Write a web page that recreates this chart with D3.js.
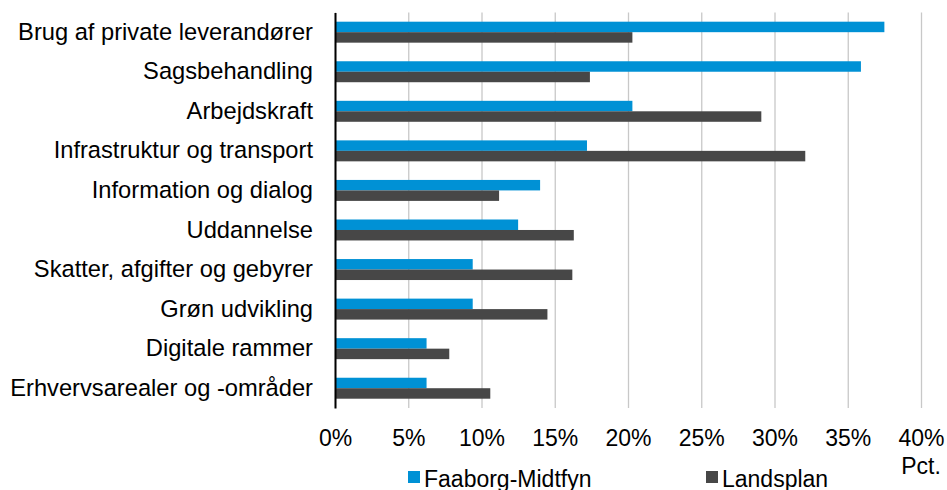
<!DOCTYPE html>
<html>
<head>
<meta charset="utf-8">
<script src="https://cdn.jsdelivr.net/npm/d3@7"></script>
<style>
  body { margin: 0; background: #fff; }
  svg text { font-family: "Liberation Sans", Arial, sans-serif; fill: #000; }
</style>
</head>
<body>
<svg id="chart" width="947" height="490"></svg>
<script>
// data
let categories = [
    "Brug af private leverandører",
    "Sagsbehandling",
    "Arbejdskraft",
    "Infrastruktur og transport",
    "Information og dialog",
    "Uddannelse",
    "Skatter, afgifter og gebyrer",
    "Grøn udvikling",
    "Digitale rammer",
    "Erhvervsarealer og -områder"
];
let faaborg = [37.5, 35.9, 20.3, 17.2, 14.0, 12.5, 9.4, 9.4, 6.25, 6.25];
let landsplan = [20.3, 17.4, 29.1, 32.1, 11.2, 16.3, 16.2, 14.5, 7.8, 10.6];
let seriesNames = ["Faaborg-Midtfyn", "Landsplan"];
let tickValues = [0, 5, 10, 15, 20, 25, 30, 35, 40];

let colors = ["#0091d5", "#474747"];

let svg = d3.select("#chart");
let margin = { top: 12.4, left: 335, right: 26, bottom: 82 };
let width = 947 - margin.left - margin.right,
    height = 490 - margin.top - margin.bottom;

let g = svg.append("g")
    .attr("transform", "translate(" + margin.left + "," + margin.top + ")");

let x = d3.scaleLinear().domain([0, 40]).range([0, width]);
let y = d3.scaleBand().domain(categories).range([0, height]).paddingInner(0.47).paddingOuter(0.235);
let ySub = d3.scaleBand().domain([0, 1]).range([0, y.bandwidth()]);

// gridlines
g.append("g")
    .attr("class", "grid")
    .call(d3.axisBottom(x).tickValues(tickValues).tickSize(height).tickFormat(""))
    .call(s => s.select(".domain").remove())
    .call(s => s.selectAll("line").attr("stroke", "#c8c8c8").attr("stroke-width", 1.3));

// bars
let rows = categories.map((c, i) => ({ cat: c, vals: [faaborg[i], landsplan[i]] }));
let row = g.selectAll(".row")
    .data(rows)
    .enter().append("g")
    .attr("transform", d => "translate(0," + y(d.cat) + ")");

row.selectAll("rect")
    .data(d => d.vals)
    .enter().append("rect")
    .attr("x", 0)
    .attr("y", (d, i) => ySub(i))
    .attr("width", d => x(d))
    .attr("height", ySub.bandwidth())
    .attr("fill", (d, i) => colors[i]);

// x tick labels
g.append("g")
    .attr("transform", "translate(0," + height + ")")
    .call(d3.axisBottom(x).tickValues(tickValues).tickSize(0).tickPadding(22).tickFormat(d => d + "%"))
    .call(s => s.select(".domain").remove())
    .call(s => s.selectAll("text").attr("font-size", 23).attr("font-family", null));

// category axis
g.append("g")
    .call(d3.axisLeft(y).tickSize(0).tickPadding(22))
    .call(s => s.select(".domain").attr("stroke", "#000").attr("stroke-width", 2))
    .call(s => s.selectAll("text").attr("font-size", 23.7).attr("font-family", null));

// unit
svg.append("text")
    .attr("x", margin.left + x(40))
    .attr("y", 474)
    .attr("text-anchor", "middle")
    .attr("font-size", 23)
    .text("Pct.");

// legend
let legendX = [408, 706];
let legend = svg.selectAll(".legend")
    .data(seriesNames)
    .enter().append("g")
    .attr("transform", (d, i) => "translate(" + legendX[i] + ",471)");
legend.append("rect")
    .attr("width", 12)
    .attr("height", 12)
    .attr("fill", (d, i) => colors[i]);
legend.append("text")
    .attr("x", 16)
    .attr("y", 15.5)
    .attr("font-size", 23)
    .text(d => d);
</script>
</body>
</html>
